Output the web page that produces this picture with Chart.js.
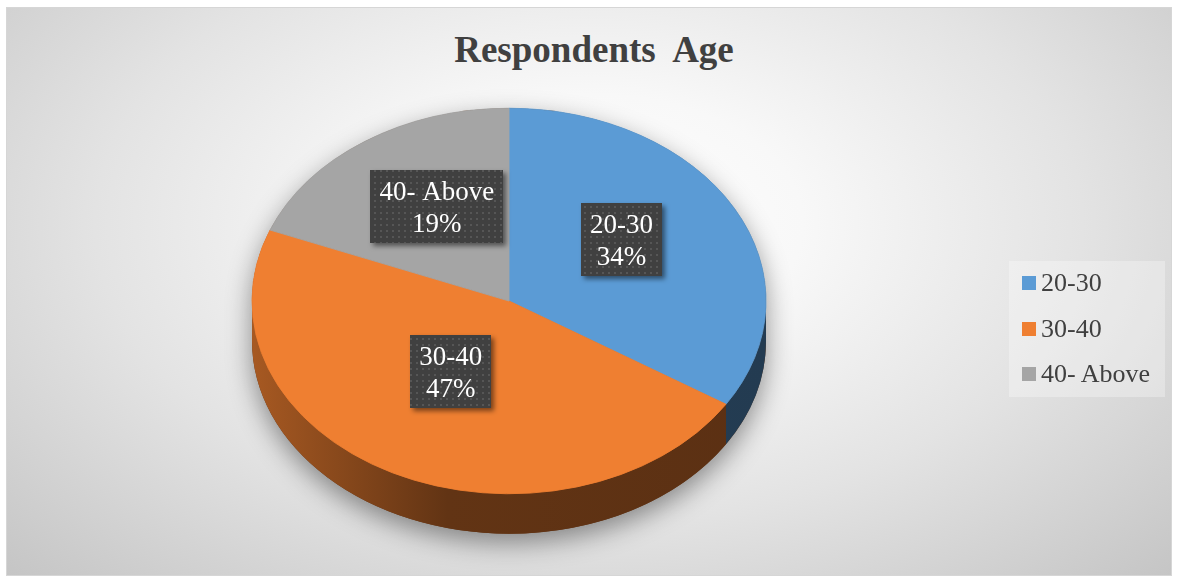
<!DOCTYPE html>
<html>
<head>
<meta charset="utf-8">
<script src="https://cdn.jsdelivr.net/npm/chart.js@4.4.1/dist/chart.umd.min.js"></script>
<style>
html,body{margin:0;padding:0;width:1178px;height:579px;overflow:hidden;background:#fff;}
#frame{position:absolute;left:6px;top:7px;width:1164px;height:567px;border:1px solid #d6d6d6;
  background:radial-gradient(ellipse farthest-corner at 50% 38%, #ffffff 0%, #f8f8f8 26%, #e3e3e3 60%, #c5c5c5 100%);}
#title{position:absolute;left:0;width:1188px;top:28px;text-align:center;font:bold 37px/44px "Liberation Serif","Times New Roman",serif;color:#404040;white-space:pre;}
#wrap{position:absolute;left:0;top:30px;width:1018px;height:542px;}
#legend{position:absolute;left:1009px;top:261px;width:156px;height:136px;background:rgba(255,255,255,0.3);}
.item{position:absolute;left:13px;height:26px;display:flex;align-items:center;font:26px/26px "Liberation Serif","Times New Roman",serif;color:#404040;white-space:pre;}
.sw{width:14px;height:14px;margin-right:5px;flex:none;}
</style>
</head>
<body>
<div id="frame"></div>
<div id="title"></div>
<div id="wrap"><canvas id="c"></canvas></div>
<div id="legend"></div>
<script>
const chartTitle = 'Respondents  Age';
const categories = ['20-30', '30-40', '40- Above'];
const shares = [34, 47, 19];
const sliceColors = ['#5b9bd5', '#ef7f31', '#a5a5a5'];

const TILT = 0.75;   // vertical squash of the pie top
const DEPTH = 40;    // thickness of the pie side
const LIFT = 15;     // label lift
const LEGEND_ROW_CENTERS = [22, 67.5, 113];

document.getElementById('title').textContent = chartTitle;

const legendEl = document.getElementById('legend');
categories.forEach((c, i) => {
  const row = document.createElement('div');
  row.className = 'item';
  row.style.top = (LEGEND_ROW_CENTERS[i] - 13) + 'px';
  const sw = document.createElement('span');
  sw.className = 'sw';
  sw.style.background = sliceColors[i];
  const tx = document.createElement('span');
  tx.textContent = c;
  row.appendChild(sw); row.appendChild(tx);
  legendEl.appendChild(row);
});

function shade(hex, f) {
  const n = parseInt(hex.slice(1), 16);
  const r = Math.round(((n >> 16) & 255) * f), g = Math.round(((n >> 8) & 255) * f), b = Math.round((n & 255) * f);
  return `rgb(${r},${g},${b})`;
}

const pc = document.createElement('canvas'); pc.width = 6; pc.height = 6;
const pctx = pc.getContext('2d');
pctx.fillStyle = '#404040'; pctx.fillRect(0, 0, 6, 6);
pctx.fillStyle = '#565656'; pctx.fillRect(2, 2, 2, 2);

const pie3d = {
  id: 'pie3d',
  beforeDatasetsDraw(chart) {
    const arcs = chart.getDatasetMeta(0).data;
    const ctx = chart.ctx;
    const cx = arcs[0].x, cy = arcs[0].y, rx = arcs[0].outerRadius, ry = rx * TILT;
    // shadow silhouette
    ctx.save();
    ctx.shadowColor = 'rgba(0,0,0,0.42)';
    ctx.shadowBlur = 26;
    ctx.shadowOffsetY = 9;
    ctx.fillStyle = shade(sliceColors[1], 0.4);
    ctx.beginPath();
    ctx.ellipse(cx, cy, rx, ry, 0, Math.PI, 2 * Math.PI);
    ctx.lineTo(cx + rx, cy + DEPTH);
    ctx.ellipse(cx, cy + DEPTH, rx, ry, 0, 0, Math.PI);
    ctx.closePath();
    ctx.fill();
    ctx.restore();
    // side walls
    arcs.forEach((arc, i) => {
      const s = Math.max(arc.startAngle, 0), e = Math.min(arc.endAngle, Math.PI);
      if (e <= s) return;
      const col = sliceColors[i];
      const g = ctx.createLinearGradient(cx - rx, 0, cx + rx, 0);
      g.addColorStop(0, shade(col, 0.7));
      g.addColorStop(0.38, shade(col, 0.41));
      g.addColorStop(1, shade(col, 0.38));
      ctx.fillStyle = g;
      ctx.beginPath();
      ctx.ellipse(cx, cy, rx, ry, 0, s, e);
      ctx.ellipse(cx, cy + DEPTH, rx, ry, 0, e, s, true);
      ctx.closePath();
      ctx.fill();
    });
    // squash the top surface
    ctx.save();
    ctx.translate(0, cy * (1 - TILT));
    ctx.scale(1, TILT);
  },
  afterDatasetsDraw(chart) {
    const ctx = chart.ctx;
    ctx.restore();
    const arcs = chart.getDatasetMeta(0).data;
    const cy = arcs[0].y;
    const total = shares.reduce((a, b) => a + b, 0);
    const pattern = ctx.createPattern(pc, 'repeat');
    arcs.forEach((arc, i) => {
      const p = arc.getCenterPoint();
      const x = p.x, y = cy + (p.y - cy) * TILT - LIFT;
      const l1 = categories[i], l2 = Math.round(shares[i] / total * 100) + '%';
      ctx.font = '27px "Liberation Serif", "Times New Roman", serif';
      const w = Math.max(ctx.measureText(l1).width, ctx.measureText(l2).width) + 18;
      const h = 73;
      ctx.save();
      ctx.shadowColor = 'rgba(0,0,0,0.5)';
      ctx.shadowBlur = 5; ctx.shadowOffsetX = 3; ctx.shadowOffsetY = 3;
      ctx.fillStyle = pattern;
      ctx.fillRect(Math.round(x - w / 2), Math.round(y - h / 2), Math.round(w), h);
      ctx.restore();
      ctx.fillStyle = '#ffffff';
      ctx.textAlign = 'center';
      ctx.textBaseline = 'alphabetic';
      ctx.fillText(l1, x, y - 6.5);
      ctx.fillText(l2, x, y + 25.5);
    });
  }
};

new Chart(document.getElementById('c'), {
  type: 'pie',
  data: {
    labels: categories,
    datasets: [{
      data: shares,
      backgroundColor: sliceColors,
      borderColor: sliceColors,
      borderWidth: 1,
      radius: 257,
      clip: false
    }]
  },
  options: {
    responsive: true,
    maintainAspectRatio: false,
    animation: false,
    layout: { padding: 0 },
    plugins: {
      legend: { display: false },
      tooltip: { enabled: false },
      title: { display: false }
    }
  },
  plugins: [pie3d]
});
</script>
</body>
</html>
